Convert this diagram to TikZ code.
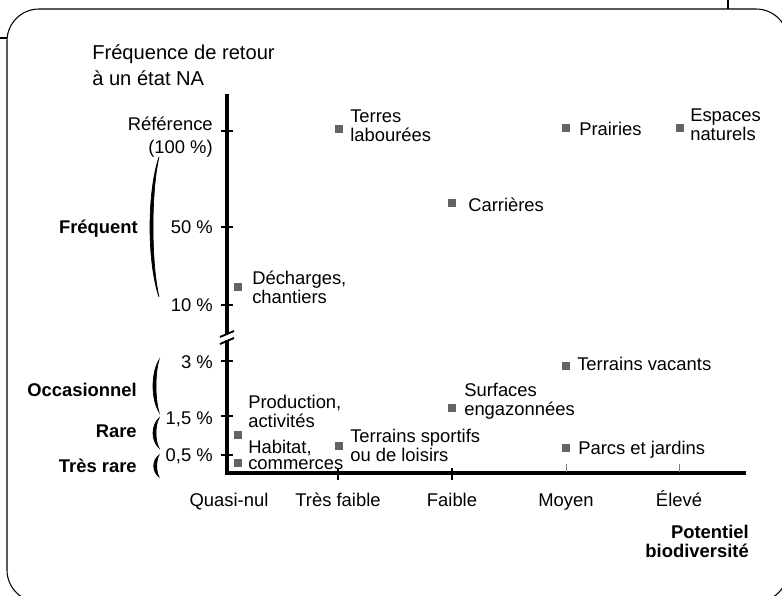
\documentclass[tikz,border=0pt]{standalone}
\usepackage{fontspec}
\setmainfont{Liberation Sans}
\definecolor{markgray}{RGB}{100,100,100}
\tikzset{
  txt/.style={inner sep=0pt, font=\fontsize{13.8}{14.25}\selectfont},
  cat/.style={inner sep=0pt, font=\fontsize{13.8}{14.25}\selectfont\bfseries},
  sqmark/.style={fill=markgray, inner sep=0pt, minimum size=6pt},
  axis/.style={line width=3pt},
}
\begin{document}
\begin{tikzpicture}[x=0.75pt, y=-0.75pt]
\useasboundingbox (0,0) rectangle (782,596);
% cadre
\begin{scope}
  \clip (0,0) rectangle (782,596);
  \draw[line width=0.8pt, rounded corners=24pt] (7,602) -- (7,9) -- (788,9) -- (788,602) -- cycle;
  \draw[line width=0.8pt] (0,38) -- (7,38) (728,0) -- (728,9);
\end{scope}
% axes
\draw[axis] (227,94) -- (227,334);
\draw[axis] (227,340) -- (227,473) -- (746,473);
\draw[line width=1.4pt] (220,337) -- (234,331) (220,344) -- (234,338);
\foreach \y in {131,227,305,361,416,455} \draw[line width=2pt] (221,\y) -- (233,\y);
\foreach \x in {338,452} \draw[line width=2pt] (\x,468) -- (\x,480);
\foreach \x in {566,679} \draw[line width=0.6pt, gray] (\x,464) -- (\x,472);
% titres
\node[txt, anchor=west, align=left, font=\fontsize{15.1}{19.5}\selectfont] (titre-y) at (92,65) {Fréquence de retour\\à un état NA};
\node[cat, anchor=east, align=right] (titre-x) at (749,541) {Potentiel\\biodiversité};
% graduations
\node[txt, anchor=east, align=right, font=\fontsize{13.8}{17.25}\selectfont] (ref) at (213,137) {Référence\\(100~\%)};
\node[txt, anchor=base east] (p50) at (213,233) {50~\%};
\node[txt, anchor=base east] (p10) at (213,311) {10~\%};
\node[txt, anchor=base east] (p3) at (213,368) {3~\%};
\node[txt, anchor=base east] (p15) at (213,424) {1,5~\%};
\node[txt, anchor=base east] (p05) at (213,461) {0,5~\%};
\foreach \x/\nom/\lab in {229/qn/Quasi-nul, 338/tf/Très faible, 452/f/Faible, 566/m/Moyen, 679/e/Élevé}
  \node[txt, anchor=base] (x-\nom) at (\x,506) {\lab};
% classes
\node[cat, anchor=base east] (frequent) at (138,233) {Fréquent};
\node[cat, anchor=base east] (occas) at (137,396) {Occasionnel};
\node[cat, anchor=base east] (rare) at (137,437) {Rare};
\node[cat, anchor=base east] (tresrare) at (137,472) {Très rare};
\foreach \t/\b/\k in {157/297/12, 360/412/8, 418/448/8, 455/477/7}
  \filldraw[line width=0.5pt] (159,\t) .. controls ({159-\k},{\t+(\b-\t)/4}) and ({159-\k},{\t+3*(\b-\t)/4}) .. (159,\b)
    .. controls ({159-\k+4},{\t+3*(\b-\t)/4}) and ({159-\k+4},{\t+(\b-\t)/4}) .. cycle;
% points
\foreach \x/\y/\nom in {339/129/terres, 566/128/prairies, 680/128/espaces, 452/203/carrieres, 238/287/decharges,
  238/435/production, 238/463/habitat, 339/446/sportifs, 452/408/surfaces, 566/366/vacants, 566/448/parcs}
  \node[sqmark] (sq-\nom) at (\x,\y) {};
\node[txt, anchor=west, align=left] (terres) at (350,126) {Terres\\labourées};
\node[txt, anchor=base west] (prairies) at (579,135) {Prairies};
\node[txt, anchor=west, align=left] (espaces) at (690,125) {Espaces\\naturels};
\node[txt, anchor=base west] (carrieres) at (468,211) {Carrières};
\node[txt, anchor=west, align=left] (decharges) at (252,287) {Décharges,\\chantiers};
\node[txt, anchor=west, align=left] (production) at (248,411) {Production,\\activités};
\node[txt, anchor=west, align=left, font=\fontsize{13.8}{12.6}\selectfont] (habitat) at (248,455) {Habitat,\\commerces};
\node[txt, anchor=west, align=left] (sportifs) at (350,445) {Terrains sportifs\\ou de loisirs};
\node[txt, anchor=west, align=left] (surfaces) at (464,401) {Surfaces\\engazonnées};
\node[txt, anchor=base west] (vacants) at (577,370) {Terrains vacants};
\node[txt, anchor=base west] (parcs) at (578,454) {Parcs et jardins};
\end{tikzpicture}
\end{document}
